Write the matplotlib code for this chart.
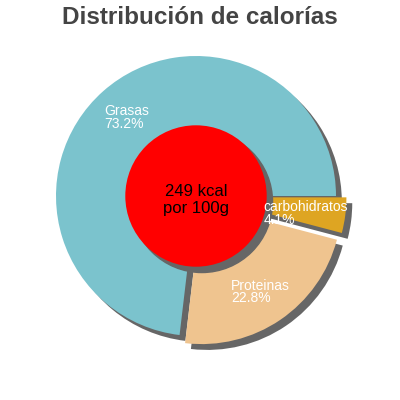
import numpy as np
import matplotlib
matplotlib.use("Agg")
import matplotlib.pyplot as plt
import matplotlib.patches as patches

plt.rcParams['font.family'] = ['Liberation Sans', 'DejaVu Sans']

# values
labels = ["Grasas", "Proteinas", "carbohidratos"]
shares = [73.2, 22.8, 4.1]
colors = ["#7bc3cd", "#efc48f", "#dea522"]
explode = [0, 0.07, 0.075]
center_text = "249 kcal\npor 100g"
title = "Distribución de calorías"

# label anchors (left-aligned), in radius units
label_pos = [(-0.655, 0.56), (0.25, -0.685), (0.48, -0.125)]

fig = plt.figure(figsize=(4, 4), dpi=100)
ax = fig.add_axes([0, 0, 1, 1])

shadow = {"ox": 0.03, "oy": -0.03, "facecolor": "#666666",
          "edgecolor": "#666666", "alpha": 1, "zorder": 0}
ax.pie(shares, colors=colors, explode=explode, startangle=0,
       counterclock=True, shadow=shadow, radius=1,
       wedgeprops={"linewidth": 0, "zorder": 1})

# pie resets the limits, so put them back afterwards
ax.set_aspect("auto")
ax.set_xlim(-1.4, 204 / 140)
ax.set_ylim(-204 / 140, 1.4)
ax.axis("off")

# red centre disc with its shadow
disc = patches.Circle((0, 0), 0.505, facecolor="#ff0000", edgecolor="none", zorder=3)
ax.add_patch(patches.Shadow(disc, 0.03, -0.03, facecolor="#666666",
                            edgecolor="#666666", alpha=1, zorder=2))
ax.add_patch(disc)
ax.text(0, -0.03, center_text, ha="center", va="center", fontsize=12,
        color="black", linespacing=1.15, zorder=4)

for (x, y), lab, val in zip(label_pos, labels, shares):
    ax.text(x, y, "%s\n%.1f%%" % (lab, val), ha="left", va="center",
            fontsize=10, color="white", linespacing=0.85, zorder=5)

fig.text(0.5, 0.955, title, ha="center", va="center", fontsize=17.5,
         fontweight="bold", color="#444444")

fig.savefig("out.png", dpi=100)
